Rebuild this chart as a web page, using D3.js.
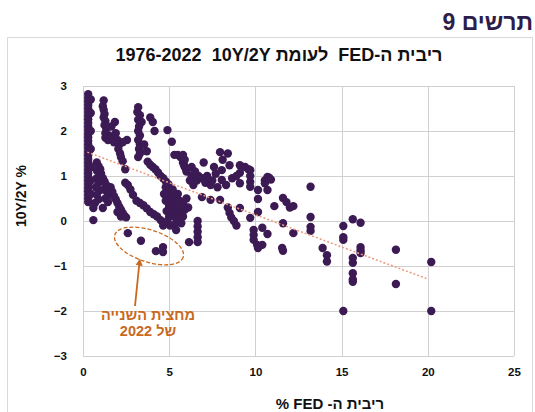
<!DOCTYPE html>
<html>
<head>
<meta charset="utf-8">
<script src="https://cdn.jsdelivr.net/npm/d3@7"></script>
<style>
  body { margin: 0; background: #fff; }
  text { font-family: Arial, "Liberation Sans", sans-serif; }
</style>
</head>
<body>
<script>
// data: Fed funds rate (x) vs 10Y-2Y spread (y)
const fedRate = [
  0.3,0.3,0.3,0.3,0.3,0.3,0.3,0.3,0.3,0.3,0.3,0.3,0.3,0.3,0.3,0.3,0.3,0.3,0.3,0.3,0.3,0.3,0.3,0.3,0.3,0.3,0.3,0.3,0.3,0.3,0.3,
  0.45,0.45,0.45,0.45,0.45,0.45,0.45,
  0.8,0.9,0.8,0.95,0.8,0.9,0.75,0.95,0.8,0.9,0.7,1.0,1.0,
  0.6,1.15,0.6,
  1.2,1.15,1.2,1.25,1.2,1.3,1.25,1.35,1.3,
  1.85,1.65,1.5,1.7,1.9,2.0,1.8,2.1,2.55,2.3,2.05,2.15,2.2,2.3,2.45,1.3,1.45,
  3.2,3.15,3.3,3.2,3.4,3.25,3.2,3.3,3.2,3.3,3.25,3.3,3.2,3.55,3.7,
  3.9,4.05,4.15,4.9,5.15,5.3,
  3.75,3.9,4.05,4.2,4.35,4.5,4.65,4.8,4.95,
  5.5,5.65,5.8,5.9,6.0,6.3,6.5,6.6,
  1.05,1.15,1.25,1.35,1.2,1.4,1.5,1.3,1.45,
  1.6,1.7,1.8,1.9,2.0,2.1,2.2,2.3,2.4,2.5,2.0,2.2,
  2.45,2.6,2.75,2.9,3.1,3.3,3.5,3.7,3.9,4.1,4.3,4.5,4.65,4.7,5.0,
  4.8,4.9,4.8,5.0,4.85,5.0,4.9,5.05,5.2,5.3,5.2,5.35,5.25,5.4,5.3,5.5,5.6,5.5,5.65,5.55,5.7,5.8,5.9,5.8,6.0,6.1,5.4,5.1,5.1,
  6.65,6.65,6.65,6.65,6.65,6.15,
  5.85,6.0,6.3,6.5,6.7,6.9,7.0,7.1,6.2,6.4,5.9,5.8,
  6.9,7.4,7.95,
  7.95,8.4,8.1,8.5,9.1,7.6,7.7,7.5,7.8,8.05,8.05,8.65,9.1,9.1,9.7,9.7,9.7,9.7,7.2,7.4,8.3,8.9,9.4,9.6,
  8.4,8.5,8.6,8.75,8.9,9.1,9.7,9.9,9.9,9.9,10.1,
  10.7,10.55,10.55,10.15,10.7,10.15,10.15,11.1,11.6,11.8,12.0,12.2,10.8,10.9,
  13.2,13.2,13.2,13.2,11.6,12.2,10.4,10.7,11.55,11.6,10.4,10.15,13.9,14.15,14.15,
  15.1,15.65,16.1,15.1,15.1,16.1,16.1,16.1,15.65,15.65,15.65,15.65,15.65,18.15,18.15,20.2,15.1,20.2,
  2.6,3.36,4.23,4.64,4.64
];
const spread = [
  2.82,2.74,2.66,2.58,2.5,2.42,2.34,2.26,2.18,2.1,2.02,1.94,1.86,1.78,1.7,1.62,1.54,1.46,1.38,1.3,1.22,1.14,1.06,0.98,0.9,0.82,0.74,0.66,0.58,0.5,0.42,
  2.7,2.4,2.0,1.6,1.2,0.9,0.6,
  1.3,1.22,1.12,1.05,0.95,0.85,0.75,0.68,0.58,0.48,0.4,1.15,0.9,
  0.29,0.29,0.02,
  2.68,2.55,2.47,2.38,2.3,2.22,2.13,2.05,1.95,
  2.2,2.1,1.9,1.85,1.95,1.8,1.75,1.7,1.8,1.75,1.6,1.5,1.42,1.33,1.15,1.85,1.8,
  2.53,2.42,2.35,2.25,2.2,2.1,2.0,1.9,1.8,1.7,1.6,1.5,1.42,1.7,1.55,
  2.3,2.2,2.0,2.02,1.76,1.47,
  1.32,1.25,1.2,1.15,1.08,1.0,0.95,0.88,0.82,
  1.47,1.42,1.3,1.2,1.1,1.0,1.05,0.9,
  1.05,0.95,0.88,0.8,0.7,0.65,0.58,0.5,0.42,
  0.75,0.65,0.55,0.48,0.4,0.32,0.25,0.18,0.12,0.08,0.2,0.1,
  0.85,0.8,0.7,0.58,0.45,0.4,0.35,0.28,0.2,0.15,0.1,0.02,-0.1,0.6,0.3,
  0.75,0.6,0.45,0.35,0.22,0.1,0.0,-0.1,0.7,0.55,0.4,0.3,0.15,0.05,-0.08,0.6,0.45,0.3,0.18,0.05,-0.05,0.4,0.25,0.1,0.5,0.3,-0.2,0.5,0.25,
  0.0,-0.12,-0.24,-0.36,-0.47,-0.47,
  1.25,1.15,1.2,1.1,1.0,0.95,1.3,0.85,0.9,0.8,1.36,1.47,
  0.53,0.47,0.47,
  1.53,1.5,1.36,1.24,1.24,1.2,1.05,0.9,0.75,1.13,0.91,0.95,1.07,0.84,1.13,1.0,0.87,0.76,1.0,0.8,0.8,1.0,1.2,1.15,
  0.3,0.18,0.08,0.0,-0.1,0.29,0.07,-0.2,-0.31,-0.42,-0.53,
  0.98,0.9,0.84,0.69,0.69,0.49,0.2,0.33,0.51,0.42,0.3,0.33,0.96,0.92,
  0.76,0.09,-0.13,-0.22,-0.05,-0.27,-0.15,-0.29,-0.6,-0.66,-0.53,-0.6,-0.6,-0.76,-0.9,
  -0.11,0.04,-0.04,-0.36,-0.42,-0.58,-0.65,-0.71,-0.82,-0.93,-1.16,-1.3,-1.35,-0.64,-1.4,-0.91,-2.0,-2.0,
  -0.27,-0.44,-0.67,-0.58,-0.69
];
const trendX = [0.25, 20];
const trendY = [1.53, -1.29];
const xTicks = [0, 5, 10, 15, 20, 25];
const yTicks = [-3, -2, -1, 0, 1, 2, 3];

const width = 535, height = 412;
const svg = d3.select("body").append("svg")
  .attr("width", width).attr("height", height);

// outer chart frame
svg.append("rect")
  .attr("x", 7.5).attr("y", 37.5).attr("width", 525).attr("height", 390)
  .attr("fill", "#fff").attr("stroke", "#d9d9d9");

svg.append("text")
  .attr("x", 533).attr("y", 30)
  .attr("text-anchor", "start").attr("direction", "rtl")
  .attr("font-size", 23).attr("font-weight", "bold").attr("fill", "#2e1d4a")
  .text("תרשים 9");

// title: RLM keeps "10Y/2Y" and "1976-2022" as separate runs, as in the original
svg.append("text")
  .attr("x", 279).attr("y", 61)
  .attr("text-anchor", "middle").attr("direction", "rtl")
  .attr("font-size", 18).attr("font-weight", "bold").attr("fill", "#111")
  .attr("xml:space", "preserve")
  .text("ריבית ה-FED  לעומת 10Y/2Y\u200F  1976-2022");

const x = d3.scaleLinear().domain([0, 25]).range([83, 514]);
const y = d3.scaleLinear().domain([-3, 3]).range([356, 86]);

// gridlines
const grid = svg.append("g").attr("stroke", "#d0d0d0").attr("stroke-width", 1);
grid.selectAll(".gx").data(xTicks).enter().append("line")
  .attr("x1", d => Math.round(x(d)) + 0.5).attr("x2", d => Math.round(x(d)) + 0.5)
  .attr("y1", y(3)).attr("y2", y(-3));
grid.selectAll(".gy").data(yTicks).enter().append("line")
  .attr("y1", d => Math.round(y(d)) + 0.5).attr("y2", d => Math.round(y(d)) + 0.5)
  .attr("x1", x(0)).attr("x2", x(25));

// axes (labels only)
const xAxis = svg.append("g").attr("transform", "translate(0," + (y(-3) + 8) + ")")
  .call(d3.axisBottom(x).tickValues(xTicks).tickSize(0).tickPadding(4));
const yAxis = svg.append("g").attr("transform", "translate(" + (x(0) - 16) + ",0)")
  .call(d3.axisLeft(y).tickValues(yTicks).tickSize(0).tickPadding(0).tickFormat(d3.format("d")));
[xAxis, yAxis].forEach(a => {
  a.select(".domain").remove();
  a.selectAll("text").attr("font-size", 11.5).attr("font-weight", "bold")
    .attr("fill", "#111").attr("font-family", "Arial, 'Liberation Sans', sans-serif");
});

// axis titles
svg.append("text")
  .attr("transform", "translate(26,196) rotate(-90)")
  .attr("text-anchor", "middle")
  .attr("font-size", 14).attr("font-weight", "bold").attr("fill", "#111")
  .text("10Y/2Y %");

svg.append("text")
  .attr("x", 330).attr("y", 409)
  .attr("text-anchor", "middle").attr("direction", "rtl")
  .attr("font-size", 15).attr("font-weight", "bold").attr("fill", "#111")
  .text("ריבית ה- FED %");

// points
const points = fedRate.map((v, i) => ({x: v, y: spread[i]}));
svg.append("g").selectAll("circle")
  .data(points).enter().append("circle")
  .attr("cx", d => x(d.x)).attr("cy", d => y(d.y))
  .attr("r", 4.2).attr("fill", "#3c1a54");

// trend line
svg.append("line")
  .attr("x1", x(trendX[0])).attr("y1", y(trendY[0]))
  .attr("x2", x(trendX[1])).attr("y2", y(trendY[1]))
  .attr("stroke", "#ee9a7c").attr("stroke-width", 1.5)
  .attr("stroke-dasharray", "2,2");

// annotation: ellipse round the 2022 H2 points
const annotColor = "#c8691f";
svg.append("ellipse")
  .attr("transform", "translate(149,246) rotate(18)")
  .attr("rx", 36).attr("ry", 16)
  .attr("fill", "none").attr("stroke", annotColor)
  .attr("stroke-width", 1.3).attr("stroke-dasharray", "4,2");

svg.append("defs").append("marker")
  .attr("id", "arrow").attr("viewBox", "0 0 10 10")
  .attr("refX", 5).attr("refY", 5)
  .attr("markerWidth", 4).attr("markerHeight", 4)
  .attr("orient", "auto")
  .append("path").attr("d", "M0,0L10,5L0,10z").attr("fill", annotColor);

svg.append("line")
  .attr("x1", 135).attr("y1", 306).attr("x2", 139.5).attr("y2", 262)
  .attr("stroke", annotColor).attr("stroke-width", 1.8)
  .attr("marker-end", "url(#arrow)");

svg.append("text")
  .attr("x", 148).attr("y", 320)
  .attr("text-anchor", "middle").attr("direction", "rtl")
  .attr("font-size", 14.5).attr("font-weight", "bold").attr("fill", annotColor)
  .text("מחצית השנייה");
svg.append("text")
  .attr("x", 148).attr("y", 336)
  .attr("text-anchor", "middle").attr("direction", "rtl")
  .attr("font-size", 14.5).attr("font-weight", "bold").attr("fill", annotColor)
  .text("של 2022");
</script>
</body>
</html>
